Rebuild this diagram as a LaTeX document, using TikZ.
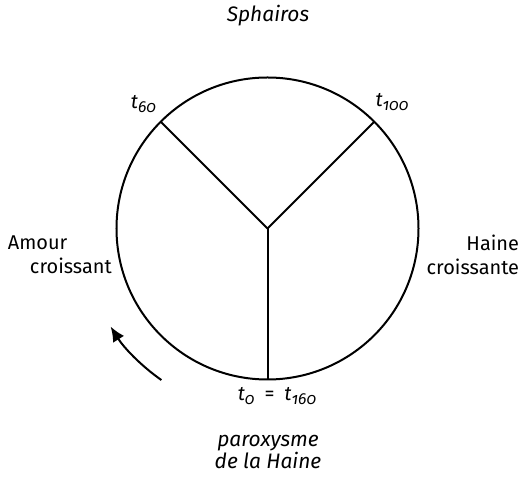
\documentclass[tikz,border=0pt]{standalone}
\usepackage{fontspec}
\setmainfont{Fira Sans}
\usetikzlibrary{arrows.meta}
\newcommand{\tlab}[1]{\textit{t}\raisebox{-0.45ex}{\footnotesize\itshape\addfontfeature{Numbers=OldStyle}#1}}

\begin{document}
\begin{tikzpicture}[>={Latex[length=7.5pt,width=6.5pt]},x=0.5bp,y=0.5bp,line width=1bp,
  lab/.style={font=\fontsize{10}{12}\selectfont,inner sep=0pt},
  ital/.style={font=\fontsize{10.5}{11.5}\selectfont\itshape,inner sep=0pt}]
  \useasboundingbox (-267.5,-248.5) rectangle (263.5,228.5);
  \coordinate (c) at (0,0);
  \draw (c) circle[radius=151];
  \foreach \a/\n in {135/p60,45/p100,270/p0} {
    \coordinate (\n) at (\a:151);
    \draw (c) -- (\n);
  }
  \coordinate (arrs) at (235:185);
  \draw[->] (arrs) arc[start angle=235,end angle=212,radius=185];
  \node[ital] (sph) at (0.5,212.5) {Sphairos};
  \node[lab] (t60) at (-124,124.5) {\tlab{60}};
  \node[lab] (t100) at (124.5,126.5) {\tlab{100}};
  \node[lab] (t0) at (9.5,-167.5) {\tlab{0}\enspace=\enspace\tlab{160}};
  \node[ital,align=center] (parox) at (0.5,-223.5) {paroxysme\\de la Haine};
  \node[lab,align=left,anchor=west] (amour) at (-260.5,-26.5)
    {Amour\\\hspace*{11bp}croissant};
  \node[lab,align=right,anchor=east] (haine) at (252.5,-26)
    {Haine\\croissante};
\end{tikzpicture}
\end{document}
